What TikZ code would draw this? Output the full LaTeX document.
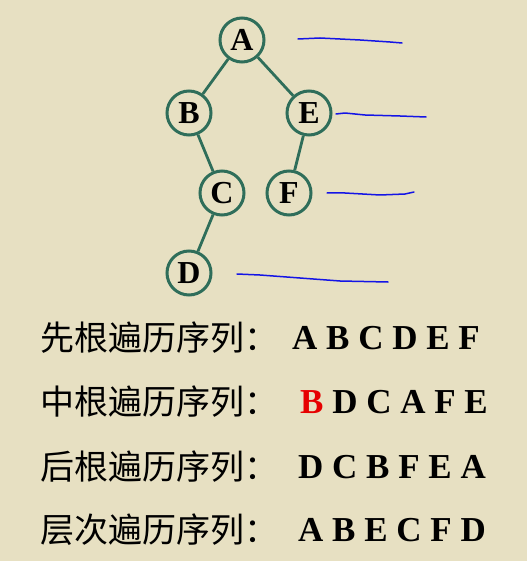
\documentclass[tikz,border=0pt]{standalone}
\usepackage{fontspec}
\setmainfont{Liberation Serif}
\newfontfamily\cjk{Noto Sans CJK SC}
\definecolor{paper}{RGB}{231,224,194}
\definecolor{treegreen}{RGB}{47,110,90}
\definecolor{penblue}{RGB}{20,20,230}
\definecolor{hired}{RGB}{230,0,0}
\tikzset{
  treenode/.style={circle, draw=treegreen, line width=3pt, minimum size=44pt, inner sep=0pt,
    font=\fontsize{32}{32}\selectfont\bfseries},
  treeedge/.style={draw=treegreen, line width=2.8pt},
  penline/.style={draw=penblue, line width=1.5pt, line cap=round, line join=round},
  labeltext/.style={anchor=west, inner sep=0pt, font=\cjk\fontsize{34}{34}\selectfont},
  seqtext/.style={anchor=west, inner sep=0pt, font=\fontsize{35}{35}\selectfont\bfseries}
}
\begin{document}
\begin{tikzpicture}[x=1pt, y=-1pt]
\fill[paper] (0,0) rectangle (527,561);
\useasboundingbox (0,0) rectangle (527,561);
% tree
\node[treenode] (A) at (242,40) {A};
\node[treenode] (B) at (189,113) {B};
\node[treenode] (E) at (309,113) {E};
\node[treenode] (C) at (222,193) {C};
\node[treenode] (F) at (289,193) {F};
\node[treenode] (D) at (189,273) {D};
\draw[treeedge] (A) -- (B);
\draw[treeedge] (A) -- (E);
\draw[treeedge] (B) -- (C);
\draw[treeedge] (E) -- (F);
\draw[treeedge] (C) -- (D);
% hand-drawn blue marks
\draw[penline] (298,39) -- (320,38) -- (360,40) -- (390,42) -- (402,43);
\draw[penline] (336,114) -- (345,113) -- (365,115) -- (400,116) -- (426,117);
\draw[penline] (327,193) -- (345,193) -- (380,195) -- (405,194) -- (414,192);
\draw[penline] (237,274) -- (260,275) -- (300,278) -- (340,281) -- (388,282);
% sequences
\node[labeltext] (l1) at (40,338) {先根遍历序列：};
\node[labeltext] (l2) at (40,402) {中根遍历序列：};
\node[labeltext] (l3) at (40,467) {后根遍历序列：};
\node[labeltext] (l4) at (40,530) {层次遍历序列：};
\node[seqtext] (s1) at (292,338) {A B C D E F};
\node[seqtext] (s2) at (300,402) {\textcolor{hired}{B} D C A F E};
\node[seqtext] (s3) at (298,467) {D C B F E A};
\node[seqtext] (s4) at (298,530) {A B E C F D};
\end{tikzpicture}
\end{document}
